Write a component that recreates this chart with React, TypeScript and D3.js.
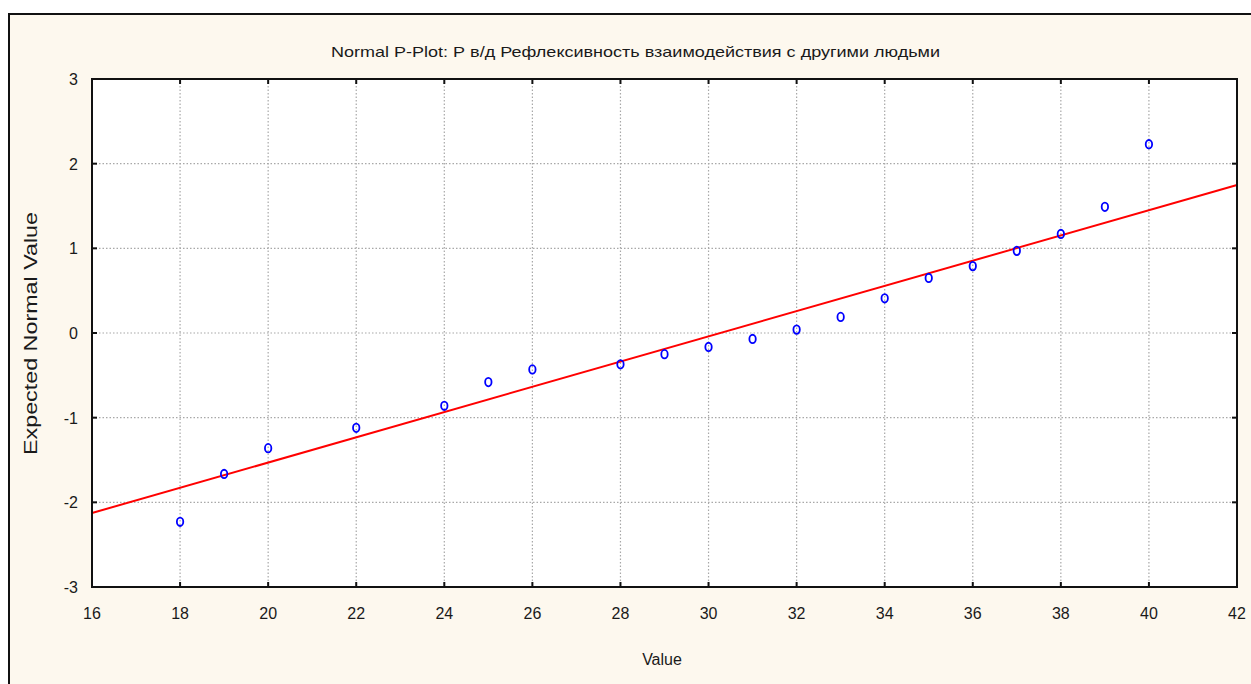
import React from "react";
import * as d3 from "d3";

const title = "Normal P-Plot: Р в/д Рефлексивность взаимодействия с другими людьми";
const xLabel = "Value";
const yLabel = "Expected Normal Value";

const values = [18, 19, 20, 22, 24, 25, 26, 28, 29, 30, 31, 32, 33, 34, 35, 36, 37, 38, 39, 40];
const expected = [-2.23, -1.665, -1.36, -1.12, -0.86, -0.58, -0.43, -0.37, -0.25, -0.165, -0.07, 0.04, 0.19, 0.41, 0.65, 0.79, 0.97, 1.17, 1.49, 2.23];

const fitX = [16, 42];
const fitY = [-2.126, 1.748];

const xTicks = [16, 18, 20, 22, 24, 26, 28, 30, 32, 34, 36, 38, 40, 42];
const yTicks = [-3, -2, -1, 0, 1, 2, 3];

const W = 1251;
const H = 684;
const L = 92, R = 1237, T = 79, B = 587;

export default function App() {
  const x = d3.scaleLinear().domain([16, 42]).range([L, R]);
  const y = d3.scaleLinear().domain([-3, 3]).range([B, T]);
  const line = d3.line<number>().x((d, i) => x(fitX[i])).y((d) => y(d));
  const font = "'Liberation Sans Narrow', 'Liberation Sans', Arial, sans-serif";
  return (
    <svg width={W} height={H} style={{ position: "fixed", left: 0, top: 0 }} fontFamily={font}>
      <rect x={0} y={0} width={W} height={H} fill="#ffffff" />
      <rect x={9} y={14} width={W + 20} height={H + 20} fill="#fdf8ee" stroke="#111" strokeWidth={2} />
      <text x={(331 + 940) / 2} y={57} textAnchor="middle" fontSize={15} fill="#1a1a1a" textLength={609} lengthAdjust="spacingAndGlyphs">{title}</text>
      <rect x={L} y={T} width={R - L} height={B - T} fill="#ffffff" />
      {xTicks.slice(1, -1).map((t) => (
        <line key={"gx" + t} x1={x(t)} x2={x(t)} y1={T} y2={B} stroke="#a8a8a8" strokeWidth={1.2} strokeDasharray="1.5,2" />
      ))}
      {yTicks.slice(1, -1).map((t) => (
        <line key={"gy" + t} x1={L} x2={R} y1={y(t)} y2={y(t)} stroke="#a8a8a8" strokeWidth={1.2} strokeDasharray="1.5,2" />
      ))}
      {xTicks.map((t) => (
        <g key={"tx" + t}>
          <line x1={x(t)} x2={x(t)} y1={B} y2={B - 5} stroke="#111" strokeWidth={2} />
          <line x1={x(t)} x2={x(t)} y1={T} y2={T + 5} stroke="#111" strokeWidth={2} />
          <text x={x(t)} y={619} textAnchor="middle" fontSize={16} fill="#1a1a1a">{t}</text>
        </g>
      ))}
      {yTicks.map((t) => (
        <g key={"ty" + t}>
          <line x1={L} x2={L + 5} y1={y(t)} y2={y(t)} stroke="#111" strokeWidth={2} />
          <line x1={R} x2={R - 5} y1={y(t)} y2={y(t)} stroke="#111" strokeWidth={2} />
          <text x={78} y={y(t) + 6} textAnchor="end" fontSize={16} fill="#1a1a1a">{t}</text>
        </g>
      ))}
      <path d={line(fitY) || ""} stroke="#ff0000" strokeWidth={2} fill="none" />
      {values.map((v, i) => (
        <ellipse key={"p" + i} cx={x(v)} cy={y(expected[i])} rx={3.2} ry={4.2} fill="none" stroke="#0000ff" strokeWidth={1.8} />
      ))}
      <rect x={L} y={T} width={R - L} height={B - T} fill="none" stroke="#111" strokeWidth={2} />
      <text x={662} y={665} textAnchor="middle" fontSize={16} fill="#1a1a1a">{xLabel}</text>
      <text transform={`translate(37, ${(212 + 455) / 2}) rotate(-90)`} textAnchor="middle" fontSize={18} fill="#1a1a1a" textLength={243} lengthAdjust="spacingAndGlyphs">{yLabel}</text>
    </svg>
  );
}
